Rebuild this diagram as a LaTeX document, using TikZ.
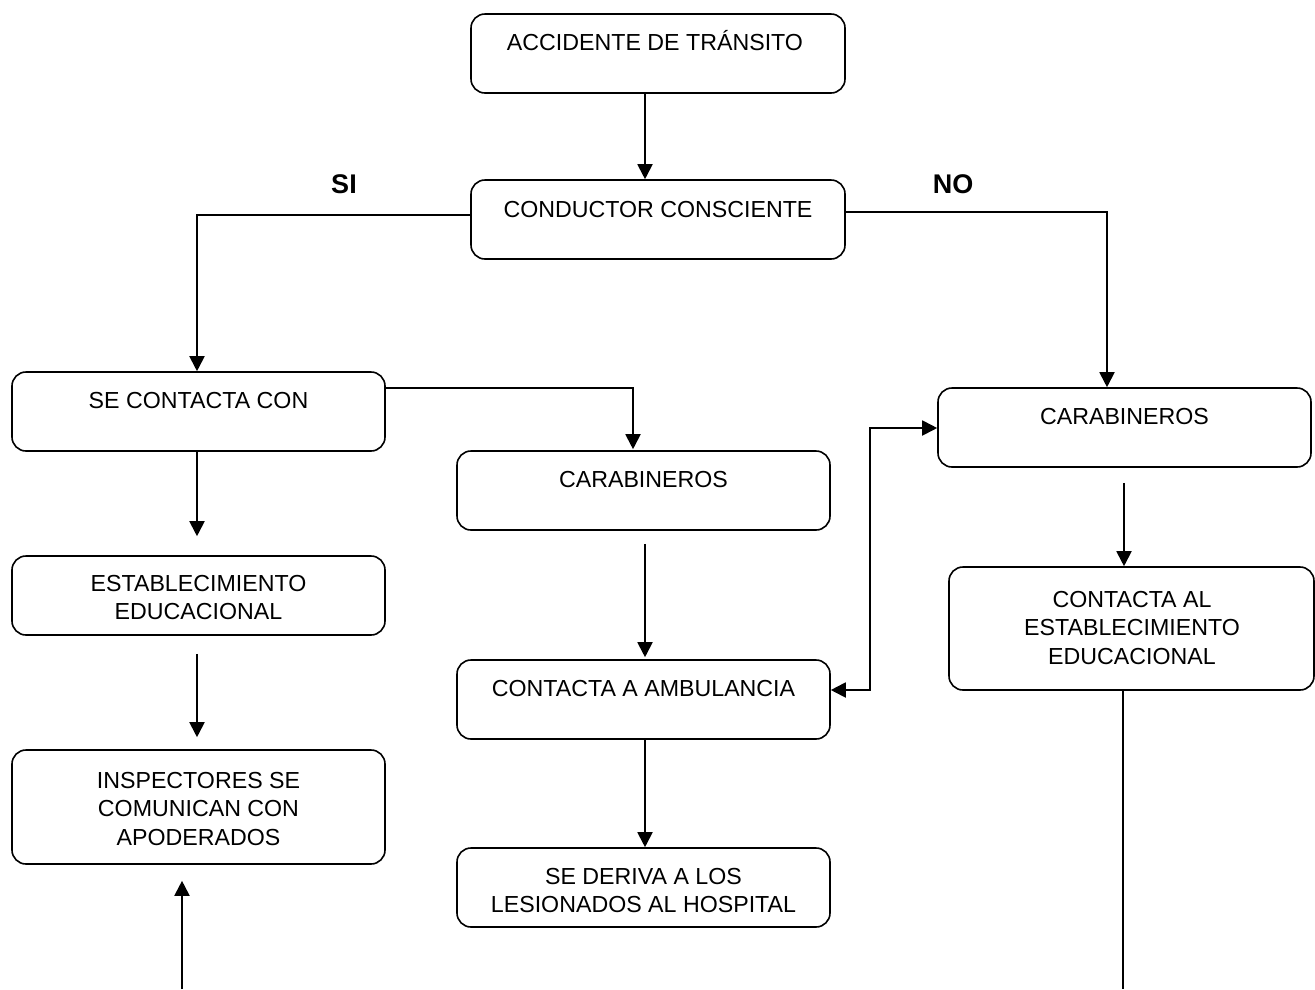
\documentclass[tikz,border=0pt]{standalone}
\usepackage{fontspec}
\setmainfont{Liberation Sans}
\usetikzlibrary{arrows.meta,calc}
\newcommand\myst{\rule{0pt}{20pt}}
\begin{document}
\begin{tikzpicture}[x=1pt,y=-1pt,
  box/.style={draw, rounded corners=14pt, line width=1.6pt, inner sep=0pt},
  w/.style={minimum width=373pt},
  txt/.style={font=\fontsize{23.2}{28.5}\selectfont, align=center, inner sep=0pt, anchor=north},
  lbl/.style={font=\fontsize{27}{30}\selectfont\bfseries, inner sep=0pt, anchor=base},
  arr/.style={line width=1.9pt, -{Triangle[length=15pt,width=15pt]}},
  dbl/.style={line width=1.9pt, {Triangle[length=15pt,width=15pt]}-{Triangle[length=15pt,width=15pt]}},
  ln/.style={line width=1.9pt}]
\useasboundingbox (0,0) rectangle (1315,989);
% boxes
\node[box, minimum width=374pt, minimum height=79pt] (b1) at (658,53.5) {};
\node[box, minimum width=374pt, minimum height=79pt] (b2) at (658,219.5) {};
\node[box, w, minimum height=79pt] (b3) at (198.5,411.5) {};
\node[box, w, minimum height=79pt] (b4) at (643.5,490.5) {};
\node[box, w, minimum height=79pt] (b5) at (1124.5,427.5) {};
\node[box, w, minimum height=79pt] (b6) at (198.5,595.5) {};
\node[box, minimum width=365pt, minimum height=123pt] (b7) at (1131.5,628.5) {};
\node[box, w, minimum height=79pt] (b8) at (643.5,699.5) {};
\node[box, w, minimum height=114pt] (b9) at (198.5,807) {};
\node[box, w, minimum height=79pt] (b10) at (643.5,887.5) {};
% texts (north = first baseline - 20)
\node[txt] (t1) at (655,30) {\myst ACCIDENTE DE TR\'ANSITO};
\node[txt] (t2) at (658,197) {\myst CONDUCTOR CONSCIENTE};
\node[txt] (t3) at (198.5,388) {\myst SE CONTACTA CON};
\node[txt] (t4) at (643.5,467) {\myst CARABINEROS};
\node[txt] (t5) at (1124.5,404) {\myst CARABINEROS};
\node[txt] (t6) at (198.5,571) {\myst ESTABLECIMIENTO\\EDUCACIONAL};
\node[txt] (t7) at (1132,587) {\myst CONTACTA AL\\ESTABLECIMIENTO\\EDUCACIONAL};
\node[txt] (t8) at (643.5,676) {\myst CONTACTA A AMBULANCIA};
\node[txt] (t9) at (198.5,768) {\myst INSPECTORES SE\\COMUNICAN CON\\APODERADOS};
\node[txt] (t10) at (643.5,864) {\myst SE DERIVA A LOS\\LESIONADOS AL HOSPITAL};
% labels
\node[lbl] (si) at (344,193) {SI};
\node[lbl] (no) at (953,193) {NO};
% helper coordinates
\coordinate (xa) at (645,0);
\coordinate (xl) at (197,0);
\coordinate (xr) at (1124,0);
\coordinate (up) at (182,989);
\coordinate (dn) at (1123,989);
% connectors
\draw[arr] (b1.south -| xa) -- (b2.north -| xa);
\draw[arr] ([yshift=4.5pt]b2.west) -| ([xshift=-1.5pt]b3.north);
\draw[arr] ([yshift=7.5pt]b2.east) -| ([xshift=-17.5pt]b5.north);
\draw[arr] ([yshift=23.5pt]b3.east) -| ([xshift=-10.5pt,yshift=1pt]b4.north);
\draw[arr] (b3.south -| xl) -- ($(b6.north -| xl)+(0,-19)$);
\draw[arr] ($(b6.south -| xl)+(0,18)$) -- ($(b9.north -| xl)+(0,-12)$);
\draw[arr] (up) -- ($(b9.south -| up)+(0,16)$);
\draw[arr] ($(b4.south -| xa)+(0,13)$) -- ($(b8.north -| xa)+(0,-2)$);
\draw[arr] (b8.south -| xa) -- (b10.north -| xa);
\draw[arr] ($(b5.south -| xr)+(0,15)$) -- (b7.north -| xr);
\draw[dbl] ([yshift=9.5pt]b8.east) -- ++(39,0) |- ([yshift=-0.5pt]b5.west);
\draw[ln] (b7.south -| dn) -- (dn);
\end{tikzpicture}
\end{document}
